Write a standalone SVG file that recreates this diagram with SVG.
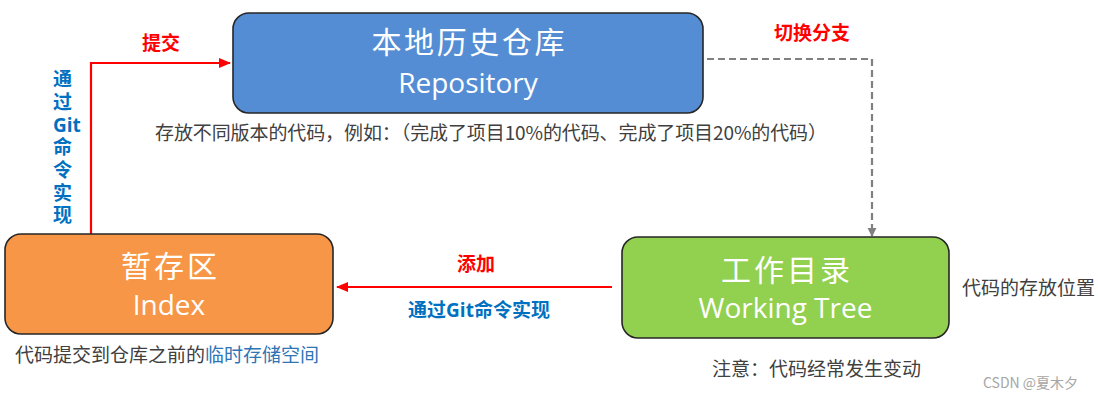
<svg xmlns="http://www.w3.org/2000/svg" width="1098" height="400" viewBox="0 0 1098 400">
  <style>
    .box { stroke: #262626; stroke-width: 1.6; }
    .title { font-family: "Noto Sans CJK SC", "Open Sans", sans-serif; font-size: 30px; fill: #ffffff; text-anchor: middle; }
    .sub { font-family: "Open Sans", "Noto Sans CJK SC", sans-serif; font-size: 28px; fill: #ffffff; text-anchor: middle; }
    .cap { font-family: "Noto Sans CJK SC", "Open Sans", sans-serif; font-size: 19px; fill: #404040; }
    .red { font-family: "Noto Sans CJK SC", "Open Sans", sans-serif; font-size: 19px; font-weight: bold; fill: #ff0000; text-anchor: middle; }
    .blue { font-family: "Open Sans", "Noto Sans CJK SC", sans-serif; font-size: 19px; font-weight: bold; fill: #0070c0; }
    .vblue { font-size: 19px; font-weight: bold; fill: #0070c0; }
    .cjk { font-family: "Noto Sans CJK SC", sans-serif; }
    .lat { font-family: "Open Sans", sans-serif; }
    .redline { fill: none; stroke: #ff0000; stroke-width: 2.2; }
    .dash { fill: none; stroke: #808080; stroke-width: 2.2; stroke-dasharray: 7 4; }
  </style>
  <defs>
    <marker id="arrRedL" viewBox="0 0 12 10" refX="11" refY="5" markerWidth="13" markerHeight="10" orient="auto" markerUnits="userSpaceOnUse">
      <path d="M0,0 L12,5 L0,10 z" fill="#ff0000"/>
    </marker>
    <marker id="arrGray" viewBox="0 0 10 10" refX="9" refY="5" markerWidth="9" markerHeight="10" orient="auto" markerUnits="userSpaceOnUse">
      <path d="M0,0 L10,5 L0,10 z" fill="#808080"/>
    </marker>
  </defs>

  <g id="connectors">
    <path class="redline" d="M91,234 L91,63 L230,63" marker-end="url(#arrRedL)"/>
    <path class="dash" d="M707,59 L872,59 L872,236" marker-end="url(#arrGray)"/>
    <path class="redline" d="M612,287 L337,287" marker-end="url(#arrRedL)"/>
    <text class="red" x="161" y="50">提交</text>
    <text class="vblue cjk" x="53" y="86">通</text>
    <text class="vblue cjk" x="53" y="109">过</text>
    <text class="vblue lat" x="53" y="132" font-size="18">Git</text>
    <text class="vblue cjk" x="53" y="154">命</text>
    <text class="vblue cjk" x="53" y="177">令</text>
    <text class="vblue cjk" x="53" y="200">实</text>
    <text class="vblue cjk" x="53" y="222">现</text>
    <text class="red" x="812" y="40">切换分支</text>
    <text class="red" x="476" y="271">添加</text>
    <text class="blue" x="479" y="317" text-anchor="middle">通过Git命令实现</text>
  </g>

  <g id="repository">
    <rect class="box" x="233" y="13" width="470" height="100" rx="16" fill="#548dd4"/>
    <text class="title" x="468" y="53" textLength="193" lengthAdjust="spacing">本地历史仓库</text>
    <text class="sub" x="468" y="93">Repository</text>
    <text class="cap" x="155" y="140" textLength="672" lengthAdjust="spacing">存放不同版本的代码，例如：（完成了项目10%的代码、完成了项目20%的代码）</text>
  </g>

  <g id="index">
    <rect class="box" x="5" y="234" width="328" height="100" rx="16" fill="#f79646"/>
    <text class="title" x="169" y="277" textLength="96" lengthAdjust="spacing">暂存区</text>
    <text class="sub" x="169" y="315">Index</text>
    <text class="cap" x="15" y="362">代码提交到仓库之前的<tspan fill="#2e75b6">临时存储空间</tspan></text>
  </g>

  <g id="working-tree">
    <rect class="box" x="622" y="237" width="327" height="101" rx="16" fill="#92d050"/>
    <text class="title" x="785.5" y="281" textLength="129" lengthAdjust="spacing">工作目录</text>
    <text class="sub" x="785.5" y="318">Working Tree</text>
    <text class="cap" x="962" y="295">代码的存放位置</text>
    <text class="cap" x="712" y="376">注意：代码经常发生变动</text>
  </g>

  <text x="983" y="388" font-family="Noto Sans CJK SC, Open Sans, sans-serif" font-size="14" fill="#a6a6a6">CSDN @夏木夕</text>
</svg>
